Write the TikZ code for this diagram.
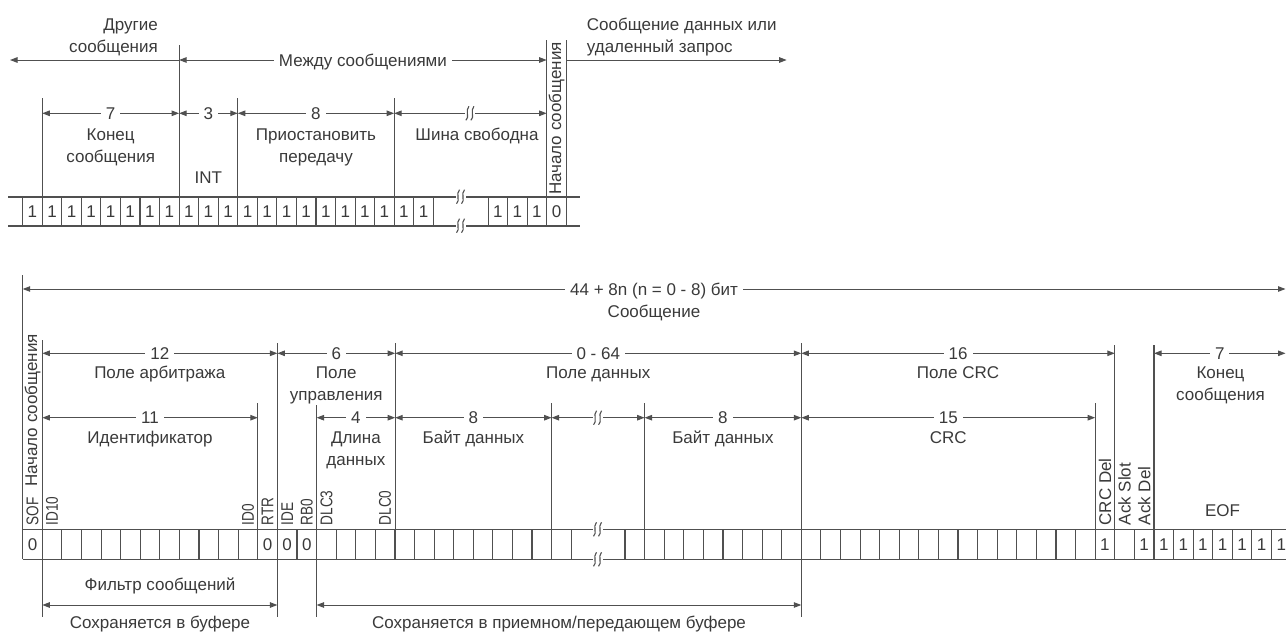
\documentclass[tikz,border=0pt]{standalone}
\usepackage{fontspec}
\usepackage{graphicx}
\setmainfont{Liberation Sans}
\usetikzlibrary{arrows.meta,calc}
\definecolor{ln}{HTML}{505050}
\definecolor{tx}{HTML}{3A3A3A}
\tikzset{
  every node/.style={text=tx, font=\fontsize{17}{20}\selectfont, inner sep=0pt},
  lbl/.style={anchor=base},
  tipA/.tip={Triangle[length=7.5pt,width=5.5pt]},
  dim/.style={draw=ln, line width=1pt, tipA-tipA},
  dimr/.style={draw=ln, line width=1pt, -tipA},
  num/.style={fill=white, inner xsep=5pt, inner ysep=1pt, text height=12pt, text depth=0pt},
  vline/.style={draw=ln, line width=1.1pt},
  hrow/.style={draw=ln, line width=1.6pt},
  cellv/.style={draw=ln, line width=1.1pt},
  rot/.style={rotate=90, anchor=west},
  bit/.style={anchor=base},
  brk/.pic={
    \fill[white] (-5,-7) rectangle (5,7);
    \draw[ln, line width=1.1pt] (-4.5,7) .. controls (-0.5,4) and (-5.5,-3) .. (-1.5,-7);
    \draw[ln, line width=1.1pt] (0.5,7) .. controls (4.5,4) and (-0.5,-3) .. (3.5,-7);
  },
}
\newcommand{\cnd}[1]{\scalebox{0.8}[1]{#1}}
\begin{document}
\begin{tikzpicture}[x=1pt,y=-1pt]
\useasboundingbox (0,0) rectangle (1286,635);

% ================= TOP DIAGRAM =================
\coordinate (yA) at (0,60);
\coordinate (yB) at (0,113.3);
\coordinate (rowTt) at (0,196.7);
\coordinate (rowTb) at (0,225.7);
\coordinate (T1) at (42.25,98.3);
\coordinate (T2) at (179.1,45);
\coordinate (T3) at (237.75,98.3);
\coordinate (T4) at (394.15,98.3);
\coordinate (T5) at (546.7,40);
\coordinate (T6) at (566.25,40);
\coordinate (TL) at (10,60);
\coordinate (TR) at (786.7,60);

% row
\draw[hrow] (8.3,196.7) -- (580,196.7);
\draw[hrow] (8.3,225.7) -- (580,225.7);
\foreach \i in {0,...,21} \draw[cellv] ({22.7+\i*19.55},196.7) -- ({22.7+\i*19.55},225.7);
\foreach \m in {0,...,4} \draw[cellv] ({488.05+\m*19.55},196.7) -- ({488.05+\m*19.55},225.7);
\foreach \i in {0,...,20} \node[bit] (tb\i) at ({22.7+(\i+0.5)*19.55},217.4) {1};
\foreach \m/\v in {0/1,1/1,2/1,3/0} \node[bit] (tr\m) at ({488.05+(\m+0.5)*19.55},217.4) {\v};
\pic at (461,196.7) {brk};
\pic at (461,225.7) {brk};

% tall verticals
\foreach \c in {T1,T2,T3,T4,T5,T6} \draw[vline] (\c) -- (\c |- rowTb);

% arrows
\draw[dimr] (T2 |- yA) -- (TL);
\draw[dim] (T2 |- yA) -- node[num] (nMezh) {Между сообщениями} (T5 |- yA);
\draw[dimr] (T6 |- yA) -- (TR);
\draw[dim] (T1 |- yB) -- node[num] (n7) {7} (T2 |- yB);
\draw[dim] (T2 |- yB) -- node[num] (n3) {3} (T3 |- yB);
\draw[dim] (T3 |- yB) -- node[num] (n8) {8} (T4 |- yB);
\draw[dim] (T4 |- yB) -- (T5 |- yB);
\pic at ($(T4 |- yB)!0.5!(T5 |- yB)$) {brk};

% labels
\node[lbl, anchor=base east] (dr1) at (158,30.5) {Другие};
\node[lbl, anchor=base east] (dr2) at (158,52.5) {сообщения};
\node[lbl, anchor=base west] (sd1) at (586.7,30.5) {Сообщение данных или};
\node[lbl, anchor=base west] (sd2) at (586.7,52.5) {удаленный запрос};
\node[lbl] (kc1) at (110.7,140.5) {Конец};
\node[lbl] (kc2) at (110.7,162.5) {сообщения};
\node[lbl] (int) at (208.4,183) {INT};
\node[lbl] (pr1) at (316,140.5) {Приостановить};
\node[lbl] (pr2) at (316,162.5) {передачу};
\node[lbl] (sh) at (477,140) {Шина свободна};
\node[rot] (nsT) at (556.5,195) {Начало сообщения};

% ================= BOTTOM DIAGRAM =================
\coordinate (yC) at (0,289);
\coordinate (yD) at (0,353.3);
\coordinate (yE) at (0,417.7);
\coordinate (yF) at (0,605);
\coordinate (rowBt) at (0,529.3);
\coordinate (rowBb) at (0,559.3);
\coordinate (yLow) at (0,617);
\coordinate (B0) at (22.7,275);
\coordinate (B1) at (42.3,340);
\coordinate (B2) at (257.8,403);
\coordinate (B3) at (277.4,343);
\coordinate (B4) at (316.55,405);
\coordinate (B5) at (395.2,343);
\coordinate (B6) at (551.6,403);
\coordinate (B7) at (644.6,403);
\coordinate (B8) at (801.3,343);
\coordinate (B9) at (1095.2,403);
\coordinate (B10) at (1114.8,345);
\coordinate (B11) at (1154.0,345);
\coordinate (BR) at (1285.5,0);

% row
\draw[hrow] (22.7,529.3) -- (1286,529.3);
\draw[hrow] (22.7,559.3) -- (1286,559.3);
\foreach \k in {0,...,28} \draw[cellv] ({22.7+\k*19.59},529.3) -- ({22.7+\k*19.59},559.3);
\foreach \j in {0,...,33} \draw[cellv] ({625+\j*19.59},529.3) -- ({625+\j*19.59},559.3);
\foreach \k in {0,12,13,14} \node[bit] (bl\k) at ({22.7+(\k+0.5)*19.59},550.5) {0};
\foreach \j in {24,26,27,28,29,30,31,32,33} \node[bit] (br\j) at ({625+(\j+0.5)*19.59},550.5) {1};
\pic at (598,529.3) {brk};
\pic at (598,559.3) {brk};

% tall verticals
\foreach \c in {B0,B2,B5,B6,B7,B9,B10,B11} \draw[vline] (\c) -- (\c |- rowBb);
\foreach \c in {B1,B3,B4,B8} \draw[vline] (\c) -- (\c |- yLow);

% arrows
\draw[dim] (B0 |- yC) -- node[num] (nTot) {44 + 8n (n = 0 - 8) бит} (BR |- yC);
\draw[dim] (B1 |- yD) -- node[num] (n12) {12} (B3 |- yD);
\draw[dim] (B3 |- yD) -- node[num] (n6) {6} (B5 |- yD);
\draw[dim] (B5 |- yD) -- node[num] (n064) {0 - 64} (B8 |- yD);
\draw[dim] (B8 |- yD) -- node[num] (n16) {16} (B10 |- yD);
\draw[dim] (B11 |- yD) -- node[num] (n7b) {7} (BR |- yD);
\draw[dim] (B1 |- yE) -- node[num] (n11) {11} (B2 |- yE);
\draw[dim] (B4 |- yE) -- node[num] (n4) {4} (B5 |- yE);
\draw[dim] (B5 |- yE) -- node[num] (n8a) {8} (B6 |- yE);
\draw[dim] (B6 |- yE) -- (B7 |- yE);
\pic at ($(B6 |- yE)!0.5!(B7 |- yE)$) {brk};
\draw[dim] (B7 |- yE) -- node[num] (n8b) {8} (B8 |- yE);
\draw[dim] (B8 |- yE) -- node[num] (n15) {15} (B9 |- yE);
\draw[dim] (B1 |- yF) -- (B3 |- yF);
\draw[dim] (B4 |- yF) -- (B8 |- yF);

% labels
\node[lbl] (msg) at (654,317) {Сообщение};
\node[lbl] (arb) at (159.8,378.8) {Поле арбитража};
\node[lbl] (up1) at (336.3,378.8) {Поле};
\node[lbl] (up2) at (336.3,400.5) {управления};
\node[lbl] (pd) at (598.2,378.8) {Поле данных};
\node[lbl] (pcrc) at (958,378.8) {Поле CRC};
\node[lbl] (ke1) at (1220.5,378.8) {Конец};
\node[lbl] (ke2) at (1220.5,400.5) {сообщения};
\node[lbl] (idf) at (150,443.8) {Идентификатор};
\node[lbl] (dl1) at (355.9,443.8) {Длина};
\node[lbl] (dl2) at (355.9,465.5) {данных};
\node[lbl] (bd1) at (473.4,443.8) {Байт данных};
\node[lbl] (bd2) at (723,443.8) {Байт данных};
\node[lbl] (crc) at (948.2,443.8) {CRC};
\node[lbl] (eof) at (1222.5,516) {EOF};
\node[lbl] (flt) at (160,590.5) {Фильтр сообщений};
\node[lbl] (sb1) at (160,628.8) {Сохраняется в буфере};
\node[lbl] (sb2) at (559,628.8) {Сохраняется в приемном/передающем буфере};

% rotated labels
\node[rot] (nsB) at (32.5,487) {Начало сообщения};
\node[rot] (sof) at (32.5,525.5) {\cnd{SOF}};
\node[rot] (id10) at (52.1,525.5) {\cnd{ID10}};
\node[rot] (id0) at (248.0,525.5) {\cnd{ID0}};
\node[rot] (rtr) at (267.6,525.5) {\cnd{RTR}};
\node[rot] (ide) at (287.2,525.5) {\cnd{IDE}};
\node[rot] (rb0) at (306.8,525.5) {\cnd{RB0}};
\node[rot] (dlc3) at (326.4,525.5) {\cnd{DLC3}};
\node[rot] (dlc0) at (385.1,525.5) {\cnd{DLC0}};
\node[rot] (crcd) at (1105.0,525.5) {CRC Del};
\node[rot] (acks) at (1124.6,525.5) {Ack Slot};
\node[rot] (ackd) at (1144.2,525.5) {Ack Del};
\end{tikzpicture}
\end{document}
